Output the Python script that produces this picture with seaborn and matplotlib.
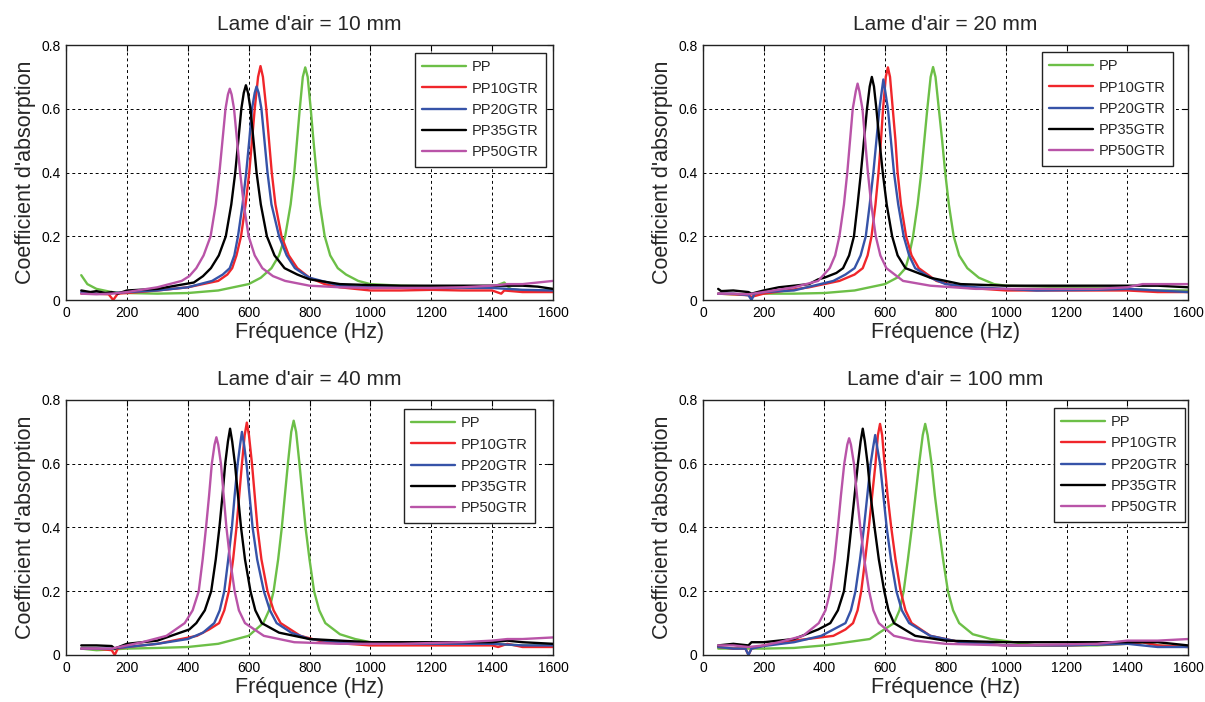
#### Import Python modules

import numpy as np
import pandas as pd
import seaborn as sns
import matplotlib
matplotlib.use('Agg')
from matplotlib import pyplot as plt

##### Data (frequency in Hz, absorption coefficient)

labels = ['PP', 'PP10GTR', 'PP20GTR', 'PP35GTR', 'PP50GTR']
colors = ['#6cbf47', '#f0262b', '#3653a8', '#000000', '#b954a8']
titles = ["Lame d'air = 10 mm", "Lame d'air = 20 mm", "Lame d'air = 40 mm", "Lame d'air = 100 mm"]

# --- 10 mm
f_10_pp = [50, 70, 100, 150, 200, 300, 400, 500, 600, 640, 675, 700, 720, 738, 750, 759, 768, 778, 786, 794, 804, 813, 823, 834, 850, 868, 893, 920, 960, 1000, 1100, 1200, 1300, 1400, 1440, 1460, 1500, 1600]
a_10_pp = [0.078, 0.05, 0.035, 0.025, 0.022, 0.02, 0.022, 0.03, 0.05, 0.07, 0.10, 0.14, 0.20, 0.30, 0.40, 0.50, 0.60, 0.70, 0.73, 0.70, 0.60, 0.50, 0.40, 0.30, 0.20, 0.14, 0.10, 0.08, 0.06, 0.05, 0.045, 0.043, 0.04, 0.04, 0.055, 0.035, 0.03, 0.03]
f_10_pp10 = [50, 100, 140, 155, 170, 200, 300, 400, 450, 500, 530, 546, 560, 575, 590, 602, 611, 620, 631, 639, 647, 658, 667, 676, 688, 708, 732, 760, 800, 850, 900, 1000, 1100, 1200, 1300, 1400, 1430, 1440, 1500, 1600]
a_10_pp10 = [0.02, 0.02, 0.018, 0.0, 0.02, 0.022, 0.03, 0.04, 0.05, 0.06, 0.08, 0.10, 0.14, 0.20, 0.30, 0.40, 0.50, 0.60, 0.70, 0.734, 0.70, 0.60, 0.50, 0.40, 0.30, 0.20, 0.14, 0.10, 0.07, 0.05, 0.04, 0.03, 0.03, 0.032, 0.03, 0.03, 0.02, 0.03, 0.025, 0.025]
f_10_pp20 = [50, 100, 150, 200, 300, 400, 480, 515, 538, 553, 565, 580, 592, 602, 611, 620, 626, 633, 642, 652, 662, 675, 700, 725, 752, 800, 900, 1000, 1200, 1400, 1500, 1600]
a_10_pp20 = [0.025, 0.02, 0.022, 0.025, 0.03, 0.04, 0.06, 0.08, 0.10, 0.14, 0.20, 0.30, 0.40, 0.50, 0.60, 0.65, 0.67, 0.65, 0.60, 0.50, 0.40, 0.30, 0.20, 0.14, 0.10, 0.07, 0.045, 0.04, 0.038, 0.038, 0.032, 0.03]
f_10_pp35 = [50, 80, 100, 130, 150, 170, 200, 300, 420, 450, 476, 502, 525, 543, 556, 566, 576, 584, 591, 598, 606, 616, 626, 640, 660, 685, 718, 760, 800, 900, 1000, 1100, 1200, 1300, 1400, 1500, 1550, 1600]
a_10_pp35 = [0.03, 0.025, 0.028, 0.022, 0.025, 0.02, 0.03, 0.035, 0.055, 0.075, 0.10, 0.14, 0.20, 0.30, 0.40, 0.50, 0.60, 0.65, 0.674, 0.65, 0.60, 0.50, 0.40, 0.30, 0.20, 0.14, 0.10, 0.08, 0.065, 0.05, 0.047, 0.045, 0.045, 0.045, 0.045, 0.045, 0.042, 0.035]
f_10_pp50 = [50, 100, 150, 200, 300, 380, 405, 428, 452, 475, 492, 504, 514, 524, 532, 538, 544, 552, 562, 572, 584, 600, 620, 645, 680, 720, 800, 900, 1000, 1200, 1300, 1400, 1450, 1500, 1600]
a_10_pp50 = [0.02, 0.018, 0.02, 0.025, 0.04, 0.06, 0.075, 0.10, 0.14, 0.20, 0.30, 0.40, 0.50, 0.60, 0.645, 0.663, 0.645, 0.60, 0.50, 0.40, 0.30, 0.20, 0.14, 0.10, 0.075, 0.06, 0.045, 0.04, 0.038, 0.038, 0.04, 0.045, 0.05, 0.05, 0.06]

# --- 20 mm
f_20_pp = [50, 100, 200, 300, 400, 500, 600, 640, 668, 680, 693, 708, 720, 730, 740, 751, 759, 767, 778, 789, 799, 811, 827, 845, 872, 910, 960, 1000, 1200, 1400, 1500, 1600]
a_20_pp = [0.02, 0.018, 0.02, 0.02, 0.022, 0.03, 0.05, 0.07, 0.10, 0.14, 0.20, 0.30, 0.40, 0.50, 0.60, 0.70, 0.731, 0.70, 0.60, 0.50, 0.40, 0.30, 0.20, 0.14, 0.10, 0.07, 0.05, 0.045, 0.04, 0.035, 0.03, 0.03]
f_20_pp10 = [50, 100, 150, 160, 200, 350, 450, 500, 527, 543, 556, 569, 579, 587, 594, 603, 610, 617, 626, 635, 642, 653, 670, 688, 712, 770, 850, 1000, 1200, 1400, 1500, 1600]
a_20_pp10 = [0.02, 0.018, 0.015, 0.01, 0.02, 0.04, 0.06, 0.08, 0.10, 0.14, 0.20, 0.30, 0.40, 0.50, 0.60, 0.70, 0.73, 0.70, 0.60, 0.50, 0.40, 0.30, 0.20, 0.14, 0.10, 0.06, 0.04, 0.03, 0.03, 0.03, 0.025, 0.025]
f_20_pp20 = [50, 100, 150, 160, 170, 200, 300, 430, 470, 500, 520, 537, 550, 562, 572, 582, 589, 595, 602, 610, 620, 630, 644, 662, 680, 700, 750, 800, 900, 1100, 1300, 1400, 1500, 1600]
a_20_pp20 = [0.02, 0.02, 0.015, 0.0, 0.02, 0.025, 0.03, 0.06, 0.08, 0.10, 0.14, 0.20, 0.30, 0.40, 0.50, 0.60, 0.65, 0.692, 0.65, 0.60, 0.50, 0.40, 0.30, 0.20, 0.14, 0.10, 0.07, 0.05, 0.04, 0.03, 0.032, 0.035, 0.03, 0.025]
f_20_pp35 = [50, 60, 100, 150, 160, 200, 250, 350, 380, 400, 440, 462, 482, 498, 510, 521, 531, 541, 550, 557, 564, 572, 582, 593, 606, 624, 642, 668, 750, 850, 1000, 1200, 1300, 1400, 1500, 1600]
a_20_pp35 = [0.035, 0.028, 0.03, 0.025, 0.02, 0.03, 0.04, 0.05, 0.065, 0.07, 0.085, 0.10, 0.14, 0.20, 0.30, 0.40, 0.50, 0.60, 0.67, 0.70, 0.67, 0.60, 0.50, 0.40, 0.30, 0.20, 0.14, 0.10, 0.07, 0.05, 0.045, 0.045, 0.045, 0.045, 0.045, 0.04]
f_20_pp50 = [50, 100, 150, 200, 300, 380, 418, 436, 450, 465, 476, 485, 494, 504, 510, 516, 526, 535, 544, 555, 570, 585, 605, 660, 750, 900, 1100, 1300, 1400, 1450, 1500, 1600]
a_20_pp50 = [0.02, 0.02, 0.018, 0.025, 0.04, 0.06, 0.10, 0.14, 0.20, 0.30, 0.40, 0.50, 0.60, 0.655, 0.679, 0.655, 0.60, 0.50, 0.40, 0.30, 0.20, 0.14, 0.10, 0.06, 0.045, 0.035, 0.035, 0.035, 0.04, 0.05, 0.05, 0.05]

# --- 40 mm
f_40_pp = [50, 100, 200, 300, 400, 500, 600, 648, 667, 682, 697, 709, 719, 729, 740, 748, 756, 767, 777, 787, 800, 815, 832, 852, 900, 950, 1000, 1200, 1400, 1500, 1600]
a_40_pp = [0.02, 0.015, 0.02, 0.022, 0.025, 0.035, 0.06, 0.10, 0.14, 0.20, 0.30, 0.40, 0.50, 0.60, 0.70, 0.735, 0.70, 0.60, 0.50, 0.40, 0.30, 0.20, 0.14, 0.10, 0.065, 0.05, 0.04, 0.035, 0.035, 0.03, 0.03]
f_40_pp10 = [50, 100, 150, 160, 170, 200, 300, 430, 470, 503, 520, 535, 549, 560, 569, 578, 587, 594, 601, 611, 620, 629, 642, 662, 682, 705, 770, 850, 1000, 1200, 1400, 1420, 1450, 1500, 1600]
a_40_pp10 = [0.02, 0.02, 0.015, 0.0, 0.02, 0.025, 0.035, 0.06, 0.08, 0.10, 0.14, 0.20, 0.30, 0.40, 0.50, 0.60, 0.69, 0.729, 0.69, 0.60, 0.50, 0.40, 0.30, 0.20, 0.14, 0.10, 0.06, 0.04, 0.03, 0.03, 0.03, 0.025, 0.035, 0.025, 0.025]
f_40_pp20 = [50, 100, 150, 200, 300, 400, 450, 487, 505, 520, 533, 545, 554, 564, 572, 578, 585, 593, 603, 613, 628, 650, 670, 692, 740, 800, 900, 1000, 1200, 1400, 1500, 1600]
a_40_pp20 = [0.02, 0.02, 0.02, 0.025, 0.035, 0.05, 0.07, 0.10, 0.14, 0.20, 0.30, 0.40, 0.50, 0.60, 0.66, 0.70, 0.66, 0.60, 0.50, 0.40, 0.30, 0.20, 0.14, 0.10, 0.07, 0.05, 0.04, 0.035, 0.035, 0.035, 0.03, 0.03]
f_40_pp35 = [50, 100, 150, 160, 200, 300, 390, 405, 428, 456, 477, 492, 504, 514, 523, 532, 539, 546, 555, 565, 575, 588, 606, 622, 643, 700, 800, 1000, 1200, 1300, 1400, 1450, 1500, 1600]
a_40_pp35 = [0.03, 0.03, 0.028, 0.02, 0.035, 0.045, 0.075, 0.08, 0.10, 0.14, 0.20, 0.30, 0.40, 0.50, 0.60, 0.67, 0.71, 0.67, 0.60, 0.50, 0.40, 0.30, 0.20, 0.14, 0.10, 0.07, 0.05, 0.04, 0.04, 0.04, 0.04, 0.045, 0.04, 0.035]
f_40_pp50 = [50, 100, 150, 200, 250, 330, 390, 416, 436, 449, 460, 470, 479, 488, 494, 500, 509, 518, 527, 539, 554, 568, 588, 650, 750, 900, 1100, 1300, 1400, 1450, 1500, 1600]
a_40_pp50 = [0.02, 0.02, 0.02, 0.03, 0.04, 0.06, 0.10, 0.14, 0.20, 0.30, 0.40, 0.50, 0.60, 0.66, 0.683, 0.66, 0.60, 0.50, 0.40, 0.30, 0.20, 0.14, 0.10, 0.06, 0.04, 0.035, 0.035, 0.04, 0.045, 0.05, 0.05, 0.055]

# --- 100 mm
f_100_pp = [50, 100, 200, 300, 400, 550, 630, 648, 662, 676, 689, 701, 713, 725, 733, 741, 754, 765, 778, 792, 808, 825, 845, 890, 950, 1100, 1300, 1400, 1450, 1500, 1600]
a_100_pp = [0.02, 0.02, 0.02, 0.022, 0.03, 0.05, 0.10, 0.14, 0.20, 0.30, 0.40, 0.50, 0.60, 0.69, 0.725, 0.69, 0.60, 0.50, 0.40, 0.30, 0.20, 0.14, 0.10, 0.065, 0.05, 0.03, 0.03, 0.035, 0.04, 0.03, 0.025]
f_100_pp10 = [50, 100, 140, 150, 160, 200, 300, 430, 470, 495, 510, 522, 535, 547, 558, 569, 577, 584, 591, 599, 609, 621, 635, 652, 668, 688, 750, 850, 1000, 1200, 1400, 1450, 1500, 1600]
a_100_pp10 = [0.025, 0.02, 0.02, 0.0, 0.02, 0.03, 0.045, 0.06, 0.08, 0.10, 0.14, 0.20, 0.30, 0.40, 0.50, 0.60, 0.69, 0.725, 0.69, 0.60, 0.50, 0.40, 0.30, 0.20, 0.14, 0.10, 0.06, 0.04, 0.03, 0.03, 0.035, 0.04, 0.03, 0.025]
f_100_pp20 = [50, 100, 140, 150, 160, 200, 300, 390, 430, 470, 488, 503, 518, 531, 542, 553, 561, 568, 575, 584, 595, 606, 620, 638, 656, 680, 750, 850, 1000, 1200, 1400, 1450, 1500, 1600]
a_100_pp20 = [0.025, 0.02, 0.02, 0.0, 0.02, 0.028, 0.04, 0.06, 0.08, 0.10, 0.14, 0.20, 0.30, 0.40, 0.50, 0.60, 0.65, 0.69, 0.65, 0.60, 0.50, 0.40, 0.30, 0.20, 0.14, 0.10, 0.06, 0.04, 0.03, 0.03, 0.035, 0.03, 0.025, 0.025]
f_100_pp35 = [50, 100, 150, 160, 200, 300, 380, 400, 420, 445, 465, 478, 489, 500, 511, 520, 527, 534, 543, 553, 566, 580, 598, 612, 630, 700, 800, 1000, 1200, 1400, 1500, 1600]
a_100_pp35 = [0.03, 0.035, 0.03, 0.04, 0.04, 0.05, 0.08, 0.09, 0.10, 0.14, 0.20, 0.30, 0.40, 0.50, 0.60, 0.67, 0.71, 0.67, 0.60, 0.50, 0.40, 0.30, 0.20, 0.14, 0.10, 0.06, 0.045, 0.04, 0.04, 0.04, 0.04, 0.03]
f_100_pp50 = [50, 100, 150, 200, 250, 330, 382, 404, 420, 434, 445, 455, 466, 476, 482, 488, 498, 508, 519, 532, 548, 562, 580, 630, 700, 800, 1000, 1300, 1400, 1450, 1500, 1600]
a_100_pp50 = [0.03, 0.03, 0.025, 0.03, 0.04, 0.06, 0.10, 0.14, 0.20, 0.30, 0.40, 0.50, 0.60, 0.66, 0.68, 0.66, 0.60, 0.50, 0.40, 0.30, 0.20, 0.14, 0.10, 0.06, 0.045, 0.035, 0.03, 0.035, 0.045, 0.045, 0.045, 0.05]

panels = [
    [(f_10_pp, a_10_pp), (f_10_pp10, a_10_pp10), (f_10_pp20, a_10_pp20), (f_10_pp35, a_10_pp35), (f_10_pp50, a_10_pp50)],
    [(f_20_pp, a_20_pp), (f_20_pp10, a_20_pp10), (f_20_pp20, a_20_pp20), (f_20_pp35, a_20_pp35), (f_20_pp50, a_20_pp50)],
    [(f_40_pp, a_40_pp), (f_40_pp10, a_40_pp10), (f_40_pp20, a_40_pp20), (f_40_pp35, a_40_pp35), (f_40_pp50, a_40_pp50)],
    [(f_100_pp, a_100_pp), (f_100_pp10, a_100_pp10), (f_100_pp20, a_100_pp20), (f_100_pp35, a_100_pp35), (f_100_pp50, a_100_pp50)],
]

##### Style

sns.set_theme(style='white')
plt.rcParams['font.family'] = ['Liberation Sans', 'DejaVu Sans']

fig = plt.figure(figsize=(12.05, 7.02), dpi=100)

# axes boxes in figure fractions [left, bottom, width, height]
boxes = [[0.0548, 0.5726, 0.4041, 0.3632],
         [0.5834, 0.5726, 0.4025, 0.3632],
         [0.0548, 0.0670, 0.4041, 0.3632],
         [0.5834, 0.0670, 0.4025, 0.3632]]
legend_anchor = [(0.986, 0.969), (0.969, 0.973), (0.963, 0.965), (0.994, 0.969)]

for i, box in enumerate(boxes):
    ax = fig.add_axes(box)
    for (f, a), lab, col in zip(panels[i], labels, colors):
        sns.lineplot(x=f, y=a, ax=ax, color=col, label=lab, linewidth=1.7)
    ax.set_xlim(0, 1600)
    ax.set_ylim(0, 0.8)
    ax.set_xticks(range(0, 1601, 200))
    ax.set_yticks([0, 0.2, 0.4, 0.6, 0.8])
    ax.set_xticklabels([str(v) for v in range(0, 1601, 200)])
    ax.set_yticklabels(['0', '0.2', '0.4', '0.6', '0.8'])
    ax.tick_params(direction='in', top=True, right=True, length=4, width=0.8,
                   labelsize=10, colors='black', pad=4)
    ax.grid(True, color='black', linestyle=(0, (3, 3)), linewidth=0.7)
    for sp in ax.spines.values():
        sp.set_color('#222222')
        sp.set_linewidth(1.0)
    ax.set_title(titles[i], fontsize=15, pad=11)
    ax.set_xlabel('Fréquence (Hz)', fontsize=15.5, labelpad=2)
    ax.set_ylabel("Coefficient d'absorption", fontsize=15.5, labelpad=4)
    leg = ax.legend(loc='upper right', bbox_to_anchor=legend_anchor[i], fontsize=10.5,
                    frameon=True, fancybox=False, framealpha=1, edgecolor='#222222',
                    handlelength=3.0, handletextpad=0.4, labelspacing=0.5,
                    borderpad=0.5, borderaxespad=0)
    leg.get_frame().set_linewidth(1.0)

plt.savefig('out.png', dpi=100)
